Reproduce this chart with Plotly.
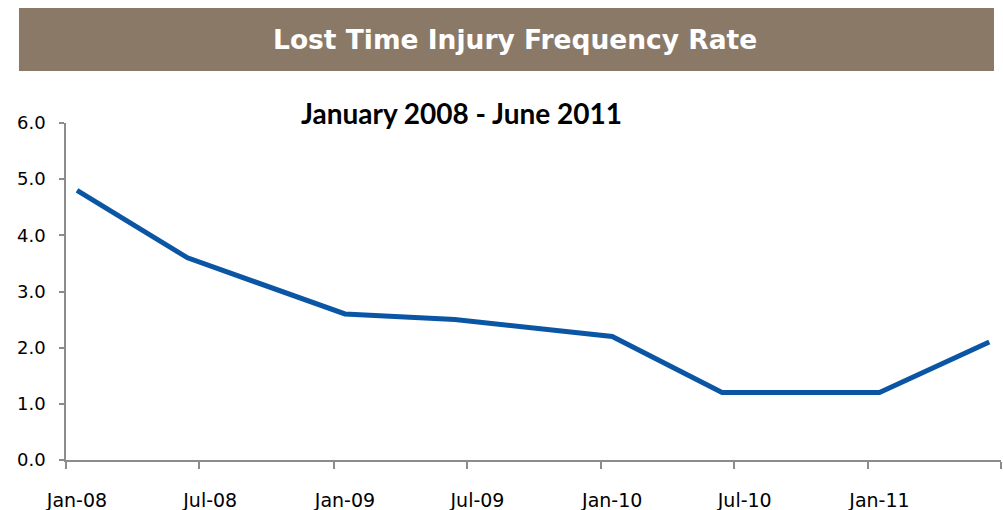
import plotly.graph_objects as go

# Data
dates = ["2008-01-16", "2008-06-15", "2009-01-16", "2009-06-15",
         "2010-01-16", "2010-06-15", "2011-01-16", "2011-06-15"]
ltifr = [4.8, 3.6, 2.6, 2.5, 2.2, 1.2, 1.2, 2.1]
tick_dates = ["2008-01-16", "2008-07-16", "2009-01-16", "2009-07-16",
              "2010-01-16", "2010-07-16", "2011-01-16"]
tick_labels = ["Jan-08", "Jul-08", "Jan-09", "Jul-09", "Jan-10", "Jul-10", "Jan-11"]
title_text = "Lost Time Injury Frequency Rate"
subtitle_text = "January 2008 - June 2011"

fig = go.Figure()
fig.add_trace(go.Scatter(
    x=dates, y=ltifr, mode="lines",
    line=dict(color="#0B56A4", width=5),
    showlegend=False, hoverinfo="x+y",
))

axis_color = "#8C8C8C"
fig.update_layout(
    width=1003, height=510,
    margin=dict(l=66, r=2, t=123, b=50),
    paper_bgcolor="white", plot_bgcolor="white",
    font=dict(family="DejaVu Sans", size=18, color="black"),
    xaxis=dict(
        type="date", automargin=False,
        range=["2008-01-01", "2011-07-01"],
        tickmode="array", tickvals=tick_dates, ticktext=tick_labels,
        ticks="", showgrid=False, zeroline=False,
        showline=True, linecolor=axis_color, linewidth=1.5,
        ticklabelstandoff=22,
        tickfont=dict(family="DejaVu Sans", size=19, color="black"),
        minor=dict(ticks="outside", ticklen=7, tickwidth=1.5, tickcolor=axis_color,
                   tickmode="linear", tick0="2008-01-01", dtick="M6", showgrid=False),
    ),
    yaxis=dict(
        range=[0, 6], dtick=1, tickformat=".1f", automargin=False,
        ticks="outside", ticklen=5, tickwidth=1.5, tickcolor=axis_color,
        showline=True, linecolor=axis_color, linewidth=1.5,
        showgrid=False, zeroline=False, ticklabelstandoff=10,
        tickfont=dict(family="DejaVu Sans", size=18, color="black"),
    ),
    shapes=[dict(
        type="rect", xref="paper", yref="paper",
        x0=-0.0503, x1=0.9925, y0=1.1543, y1=1.3412,
        fillcolor="#8B7968", line=dict(width=0), layer="below",
    )],
    annotations=[
        dict(text="<b>" + title_text + "</b>", xref="paper", yref="paper",
             x=0.4807, y=1.2463, xanchor="center", yanchor="middle", showarrow=False,
             font=dict(family="DejaVu Sans", size=26.5, color="white")),
        dict(text="<b>" + subtitle_text + "</b>", xref="paper", yref="paper",
             x=0.4225, y=1.0297, xanchor="center", yanchor="middle", showarrow=False,
             font=dict(family="Lato", size=28, color="black")),
    ],
)

fig.write_html("out.html", config={"displayModeBar": False},
               post_script="document.body.style.margin='0';document.body.style.padding='0';")
